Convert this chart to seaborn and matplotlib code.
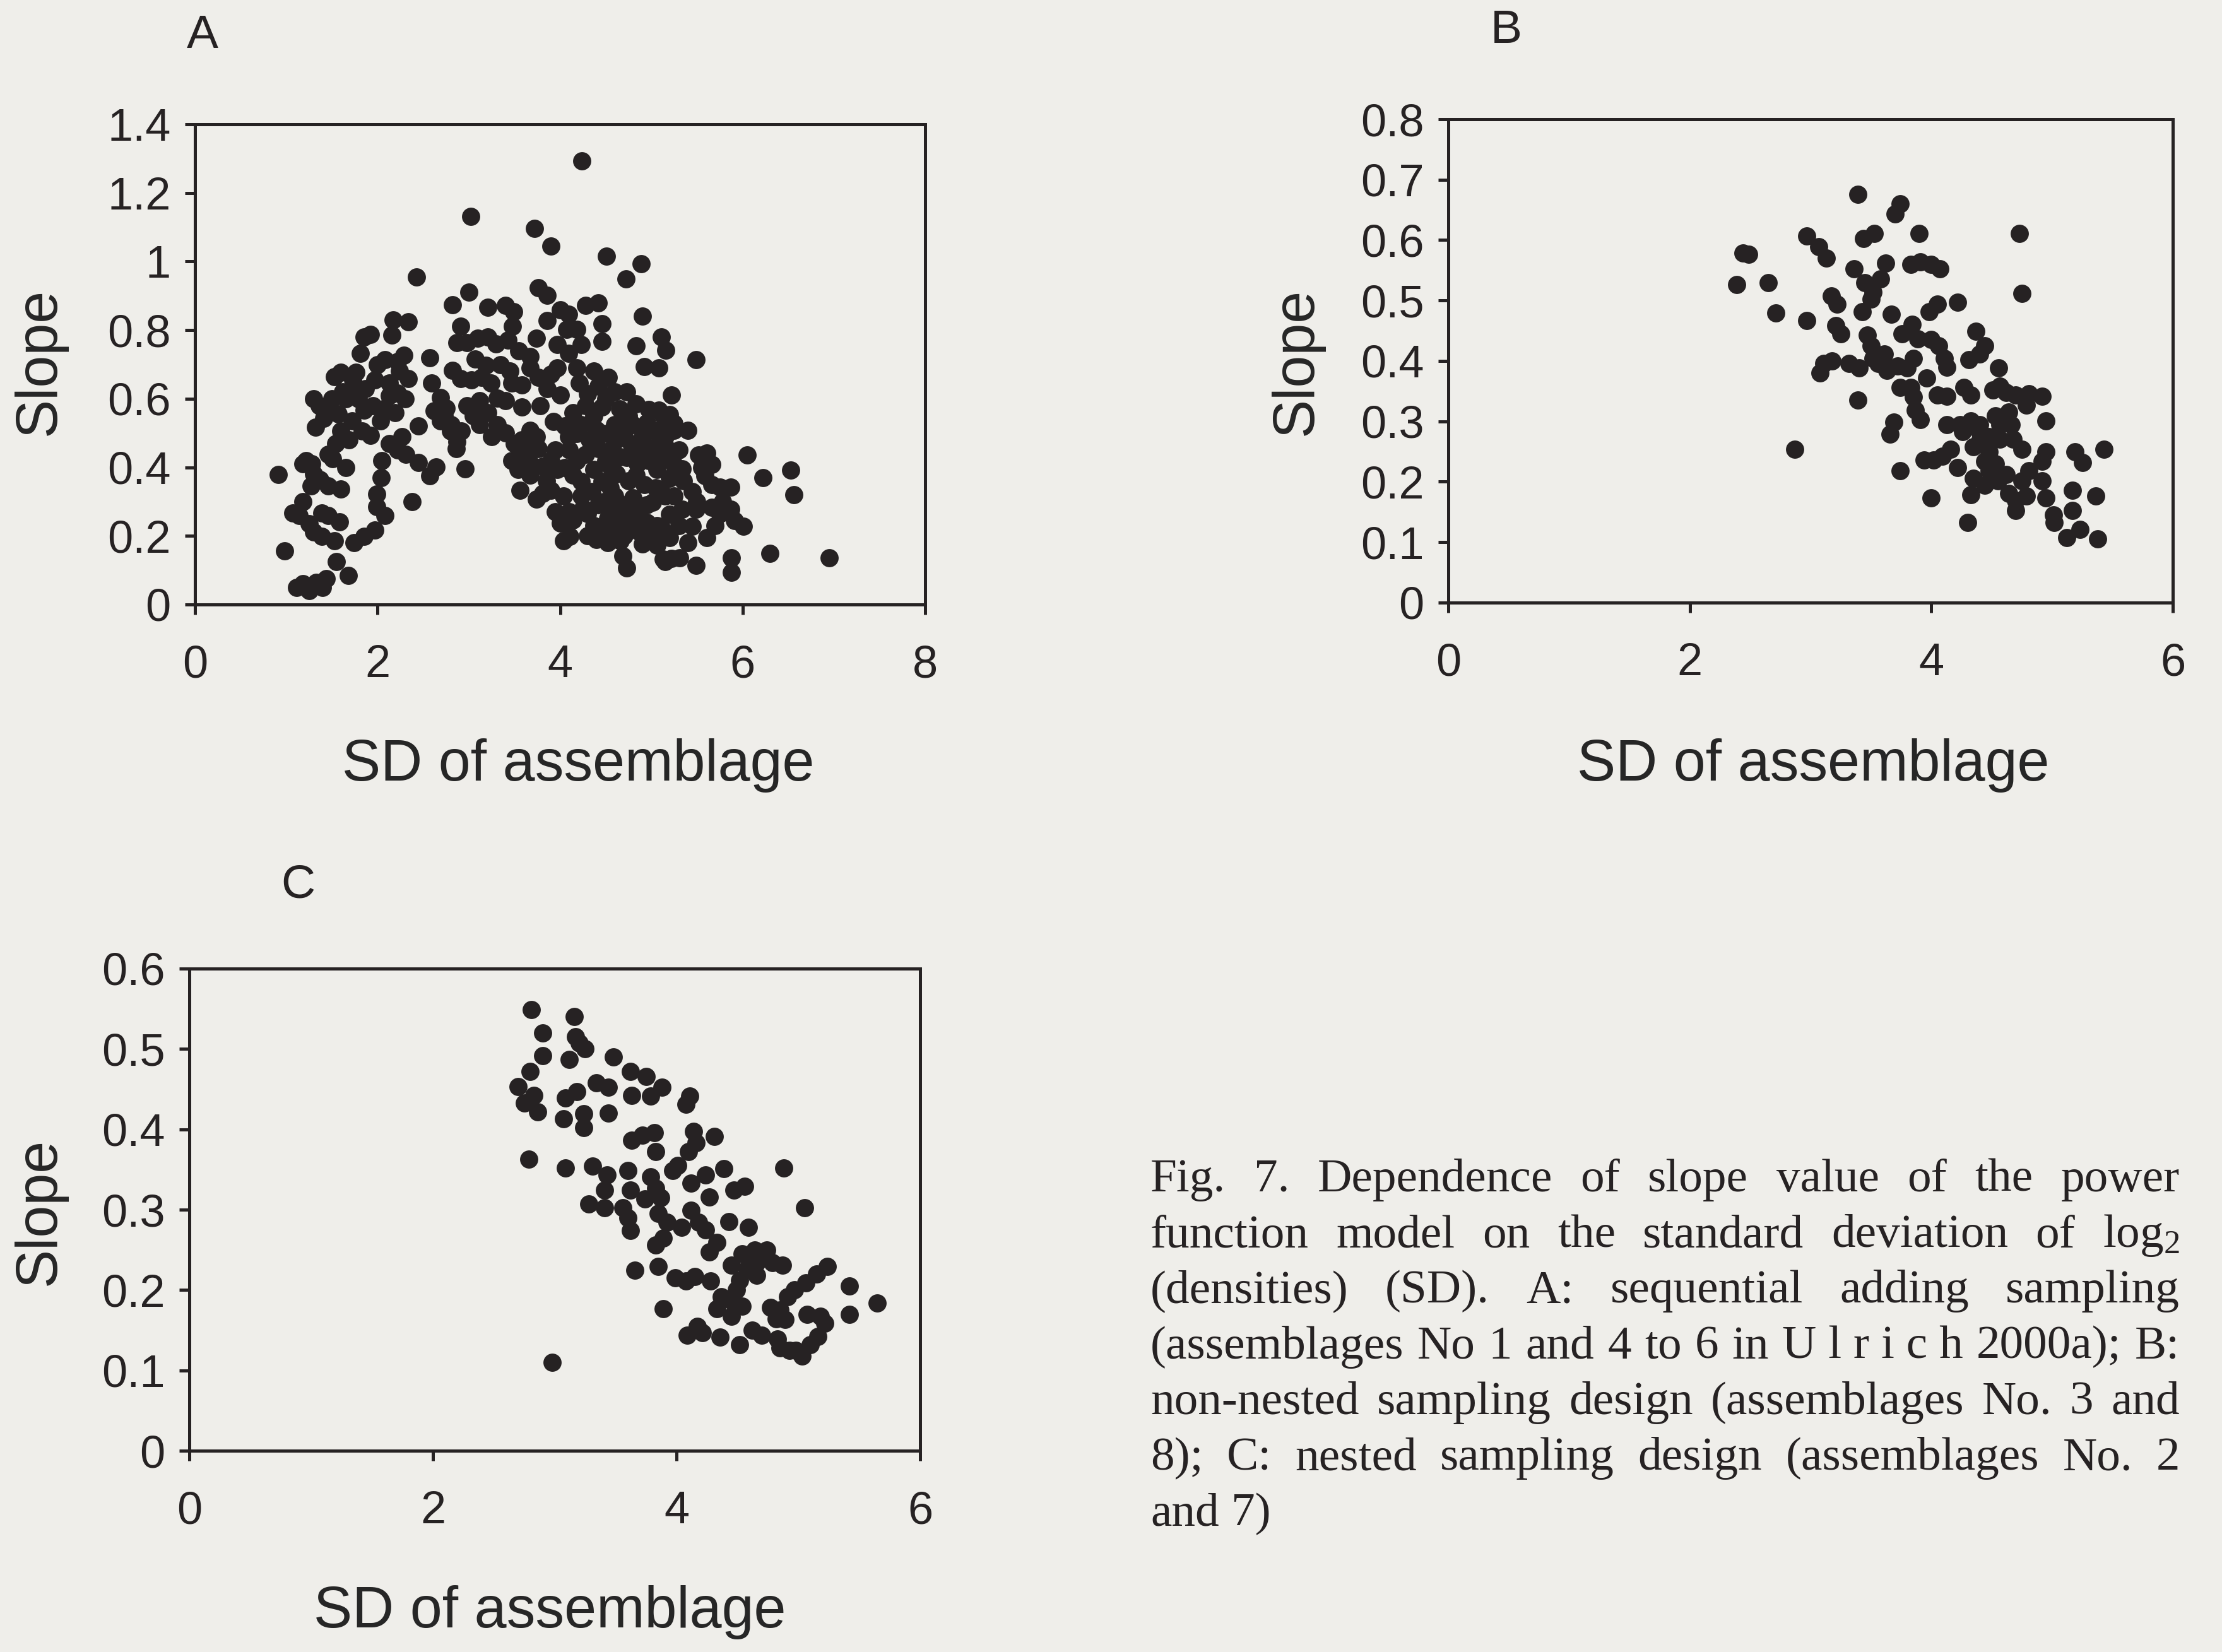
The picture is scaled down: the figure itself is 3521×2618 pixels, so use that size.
import matplotlib
matplotlib.use("Agg")
import matplotlib.pyplot as plt
import pandas as pd
import seaborn as sns

# ---------------------------------------------------------------- data
# Panel A: sequential adding sampling  (SD of assemblage, slope)
points_a = [
    (0.91, 0.379), (0.98, 0.156), (1.11, 0.05), (1.18, 0.06), (1.25, 0.04), (1.33, 0.065), (1.40, 0.05), (1.44, 0.075),
    (1.55, 0.125), (1.68, 0.085), (1.07, 0.267), (1.18, 0.30), (1.27, 0.345), (1.18, 0.41), (1.30, 0.38), (1.37, 0.365),
    (1.46, 0.345), (1.60, 0.337), (1.46, 0.438), (1.51, 0.425), (1.25, 0.235), (1.30, 0.212), (1.39, 0.199), (1.53, 0.186),
    (1.46, 0.259), (1.58, 0.241), (1.74, 0.18), (1.85, 0.199), (1.97, 0.217), (2.08, 0.259), (1.99, 0.285), (1.99, 0.322),
    (2.04, 0.37), (2.38, 0.30), (2.96, 0.396), (1.14, 0.26), (1.39, 0.267), (1.22, 0.42), (1.28, 0.41),
    (1.30, 0.60), (1.32, 0.517), (1.41, 0.543), (1.53, 0.664), (1.60, 0.677), (1.65, 0.60), (1.76, 0.677), (1.81, 0.732),
    (1.85, 0.78), (1.92, 0.787), (1.79, 0.60), (1.85, 0.567), (1.72, 0.536), (1.60, 0.505), (1.69, 0.48), (1.83, 0.505),
    (1.92, 0.493), (2.03, 0.535), (2.08, 0.572), (2.13, 0.609), (2.13, 0.646), (2.22, 0.616), (2.34, 0.658), (2.08, 0.714),
    (2.22, 0.708), (2.29, 0.727), (2.17, 0.83), (2.34, 0.824), (2.13, 0.469), (2.22, 0.45), (2.31, 0.438), (2.45, 0.414),
    (2.64, 0.401), (2.57, 0.72), (2.59, 0.646), (2.69, 0.603), (2.75, 0.572), (2.69, 0.536), (2.80, 0.505), (2.87, 0.475),
    (2.82, 0.683), (2.91, 0.658), (2.98, 0.579), (2.82, 0.873), (3.00, 0.91), (2.91, 0.811), (2.87, 0.763), (2.98, 0.763),
    (1.36, 0.58), (1.46, 0.565), (1.57, 0.555), (1.62, 0.62), (1.73, 0.655), (1.87, 0.63), (1.97, 0.655), (2.16, 0.785),
    (2.24, 0.68), (2.30, 0.60), (2.19, 0.56), (2.27, 0.49), (2.57, 0.375), (2.62, 0.565), (2.73, 0.55), (2.81, 0.525),
    (2.92, 0.505), (2.86, 0.455), (2.05, 0.42), (1.54, 0.47), (2.43, 0.955),
    (1.50, 0.60), (1.70, 0.62), (1.95, 0.58), (2.00, 0.70), (2.45, 0.52), (1.65, 0.40),
    (3.02, 1.131), (3.72, 1.096), (3.90, 1.045), (4.24, 1.293), (4.51, 1.015), (4.89, 0.993), (4.72, 0.949), (3.76, 0.923),
    (3.86, 0.901), (3.21, 0.866), (3.40, 0.872), (3.49, 0.854), (3.48, 0.811), (3.43, 0.771), (3.10, 0.776), (3.21, 0.78),
    (3.74, 0.776), (3.86, 0.828), (4.00, 0.859), (4.09, 0.846), (4.07, 0.802), (4.28, 0.872), (4.42, 0.879), (4.46, 0.818),
    (4.46, 0.767), (4.18, 0.802), (4.23, 0.758), (3.97, 0.758), (4.90, 0.841), (4.83, 0.754), (5.11, 0.78), (5.16, 0.741),
    (4.92, 0.694), (5.08, 0.69), (5.22, 0.611), (3.07, 0.716), (3.19, 0.697), (3.14, 0.662), (3.03, 0.655), (3.24, 0.646),
    (3.31, 0.602), (3.12, 0.594), (3.45, 0.681), (3.47, 0.646), (3.40, 0.594), (3.21, 0.559), (3.05, 0.55), (3.12, 0.524),
    (3.31, 0.524), (3.58, 0.576), (3.67, 0.69), (3.67, 0.723), (3.76, 0.662), (3.90, 0.671), (3.86, 0.629), (4.00, 0.611),
    (3.97, 0.69), (4.09, 0.732), (4.18, 0.69), (4.21, 0.646), (4.37, 0.681), (4.42, 0.637), (4.53, 0.662), (4.60, 0.62),
    (4.73, 0.62), (4.83, 0.585), (4.97, 0.568), (5.13, 0.55), (3.93, 0.533), (3.67, 0.508), (3.58, 0.48), (3.74, 0.489),
    (3.56, 0.438), (3.47, 0.42), (3.67, 0.412), (3.76, 0.454), (3.81, 0.403), (3.90, 0.42), (3.97, 0.394), (4.14, 0.559),
    (4.18, 0.499), (4.09, 0.489), (4.23, 0.524), (4.37, 0.55), (4.46, 0.576), (4.32, 0.48), (4.42, 0.454), (4.28, 0.438),
    (4.48, 0.499), (4.60, 0.524), (4.71, 0.508), (4.80, 0.524), (4.90, 0.489), (5.01, 0.508), (5.15, 0.489), (4.57, 0.454),
    (4.73, 0.429), (4.55, 0.403), (4.83, 0.377), (4.97, 0.42), (5.06, 0.394), (5.18, 0.429), (5.20, 0.368), (4.18, 0.42),
    (4.14, 0.377), (4.23, 0.359), (4.37, 0.394), (4.46, 0.359), (4.60, 0.316), (4.69, 0.29), (4.42, 0.29), (4.55, 0.272),
    (4.73, 0.246), (4.87, 0.272), (5.01, 0.298), (5.15, 0.316), (5.20, 0.263), (5.06, 0.23), (4.87, 0.212), (4.64, 0.212),
    (4.48, 0.221), (4.37, 0.23), (4.23, 0.316), (4.25, 0.281), (4.04, 0.316), (3.90, 0.333), (3.74, 0.307), (3.56, 0.333),
    (3.81, 0.324), (3.67, 0.377), (3.54, 0.394), (4.00, 0.237), (4.14, 0.246), (4.04, 0.186), (4.11, 0.199), (4.69, 0.142),
    (4.73, 0.107), (5.15, 0.125), (5.22, 0.134), (4.90, 0.177), (5.01, 0.186), (4.58, 0.245), (4.80, 0.23), (4.66, 0.185),
    (4.52, 0.18),
    (4.30, 0.615), (4.50, 0.60), (4.65, 0.57), (4.75, 0.55), (4.95, 0.53), (4.62, 0.48), (4.78, 0.47), (4.88, 0.45),
    (5.05, 0.46), (4.66, 0.43), (4.85, 0.41), (4.50, 0.42), (4.62, 0.38), (4.75, 0.36), (4.92, 0.35), (5.05, 0.34),
    (4.55, 0.34), (4.80, 0.31), (4.95, 0.29), (4.48, 0.30), (4.35, 0.33), (4.30, 0.265), (4.62, 0.26), (4.80, 0.26),
    (4.95, 0.24), (4.52, 0.25), (4.70, 0.20), (4.58, 0.19), (4.98, 0.20), (5.12, 0.22), (4.40, 0.19), (4.30, 0.20),
    (4.10, 0.27), (3.95, 0.27), (3.85, 0.36), (3.95, 0.45), (4.05, 0.40), (4.10, 0.45), (3.62, 0.45), (3.50, 0.47),
    (3.40, 0.50), (3.25, 0.49), (3.35, 0.70), (3.55, 0.74), (3.30, 0.76), (3.58, 0.64), (3.78, 0.58), (4.05, 0.52),
    (4.28, 0.58), (4.40, 0.51), (5.30, 0.45), (5.35, 0.36), (5.50, 0.30), (5.55, 0.40), (5.78, 0.30), (5.70, 0.23),
    (5.30, 0.23), (5.40, 0.18),
    (5.08, 0.567), (5.20, 0.554), (5.25, 0.528), (5.08, 0.508), (5.25, 0.508), (5.40, 0.508), (5.49, 0.714), (5.15, 0.462),
    (5.11, 0.421), (5.25, 0.408), (5.34, 0.396), (5.52, 0.436), (5.61, 0.442), (5.66, 0.408), (5.59, 0.375), (5.11, 0.33),
    (5.25, 0.317), (5.45, 0.33), (5.66, 0.35), (5.75, 0.343), (5.87, 0.343), (6.05, 0.436), (6.22, 0.37), (6.53, 0.392),
    (6.56, 0.32), (5.34, 0.278), (5.49, 0.278), (5.66, 0.283), (5.75, 0.265), (5.87, 0.278), (5.91, 0.245), (6.01, 0.229),
    (5.45, 0.229), (5.61, 0.195), (5.08, 0.192), (5.20, 0.195), (5.06, 0.173), (5.13, 0.132), (5.31, 0.136), (5.49, 0.114),
    (5.88, 0.136), (5.88, 0.094), (6.30, 0.149), (6.95, 0.136),
]

# Panel B: non-nested sampling design
points_b = [
    (3.39, 0.676), (3.74, 0.660), (3.70, 0.643), (3.90, 0.611), (4.73, 0.611), (2.97, 0.607), (3.07, 0.589), (3.13, 0.570),
    (3.53, 0.611), (3.44, 0.603), (2.44, 0.579), (2.49, 0.577), (2.39, 0.526), (2.65, 0.530), (2.71, 0.479), (2.97, 0.467),
    (3.36, 0.552), (3.62, 0.562), (3.58, 0.536), (3.45, 0.530), (3.52, 0.514), (3.83, 0.560), (3.91, 0.564), (4.00, 0.560),
    (4.07, 0.552), (3.17, 0.508), (3.22, 0.494), (3.43, 0.481), (3.67, 0.477), (3.98, 0.481), (4.05, 0.494), (4.22, 0.497),
    (4.75, 0.512), (3.21, 0.459), (3.25, 0.445), (3.47, 0.443), (3.50, 0.425), (3.76, 0.445), (3.84, 0.461), (3.89, 0.437),
    (4.00, 0.435), (4.06, 0.425), (4.11, 0.404), (4.37, 0.449), (4.44, 0.425), (4.40, 0.412), (4.31, 0.402), (4.13, 0.390),
    (4.56, 0.388), (3.11, 0.396), (3.08, 0.380), (3.18, 0.400), (3.32, 0.396), (3.40, 0.388), (3.52, 0.404), (3.61, 0.412),
    (3.63, 0.384), (3.72, 0.392), (3.85, 0.404), (3.80, 0.388), (3.96, 0.372), (3.39, 0.335), (3.74, 0.356), (3.83, 0.356),
    (3.85, 0.340), (3.87, 0.319), (3.91, 0.303), (4.05, 0.344), (4.13, 0.341), (4.27, 0.356), (4.33, 0.344), (4.51, 0.352),
    (4.57, 0.358), (4.62, 0.348), (4.70, 0.344), (4.81, 0.346), (4.92, 0.341), (3.69, 0.299), (3.66, 0.279), (4.13, 0.295),
    (4.24, 0.295), (4.33, 0.301), (4.40, 0.295), (4.26, 0.283), (4.53, 0.309), (4.64, 0.315), (4.57, 0.295), (4.95, 0.301),
    (2.87, 0.254), (4.40, 0.267), (4.48, 0.275), (4.57, 0.271), (4.68, 0.271), (4.35, 0.258), (4.75, 0.254), (4.16, 0.254),
    (3.94, 0.236), (4.02, 0.236), (4.09, 0.242), (4.48, 0.250), (4.44, 0.234), (4.53, 0.230), (4.22, 0.224), (3.74, 0.218),
    (4.95, 0.250), (4.92, 0.234), (5.19, 0.250), (5.25, 0.232), (5.43, 0.254), (4.35, 0.206), (4.48, 0.218), (4.62, 0.212),
    (4.75, 0.202), (4.44, 0.194), (4.55, 0.202), (4.92, 0.202), (4.33, 0.179), (4.64, 0.181), (4.70, 0.169), (4.79, 0.177),
    (4.70, 0.153), (4.95, 0.173), (4.00, 0.173), (5.17, 0.186), (5.36, 0.177), (5.17, 0.153), (5.01, 0.145), (5.02, 0.133),
    (4.30, 0.133), (5.23, 0.121), (5.12, 0.108), (5.38, 0.106), (4.81, 0.218), (3.50, 0.502), (3.56, 0.396), (3.65, 0.388),
    (4.79, 0.327), (4.66, 0.295), (4.40, 0.283),
]

# Panel C: nested sampling design
points_c = [
    (2.81, 0.549), (3.16, 0.540), (2.90, 0.520), (3.17, 0.515), (3.20, 0.507), (3.25, 0.500), (2.90, 0.492), (3.12, 0.487),
    (3.48, 0.490), (2.80, 0.472), (3.62, 0.472), (3.75, 0.466), (2.70, 0.453), (2.83, 0.442), (2.75, 0.433), (2.86, 0.422),
    (3.09, 0.439), (3.18, 0.447), (3.34, 0.458), (3.44, 0.452), (3.63, 0.442), (3.79, 0.441), (3.88, 0.452), (4.11, 0.441),
    (4.08, 0.431), (3.07, 0.413), (3.24, 0.419), (3.24, 0.402), (3.44, 0.420), (2.79, 0.363), (3.09, 0.352), (3.63, 0.386),
    (3.72, 0.393), (3.82, 0.396), (3.83, 0.372), (4.14, 0.397), (4.16, 0.383), (4.10, 0.372), (4.31, 0.391), (4.88, 0.352),
    (3.31, 0.354), (3.43, 0.343), (3.41, 0.324), (3.60, 0.349), (3.62, 0.324), (3.79, 0.341), (3.83, 0.327), (3.87, 0.315),
    (3.74, 0.313), (3.97, 0.349), (4.01, 0.355), (4.12, 0.333), (4.24, 0.343), (4.39, 0.351), (4.27, 0.316), (4.47, 0.324),
    (4.56, 0.329), (3.28, 0.307), (3.41, 0.302), (3.56, 0.302), (3.60, 0.290), (3.62, 0.274), (3.85, 0.295), (3.92, 0.284),
    (4.04, 0.278), (4.12, 0.299), (4.18, 0.284), (4.24, 0.275), (4.33, 0.259), (4.43, 0.285), (4.59, 0.278), (5.05, 0.302),
    (3.83, 0.256), (3.89, 0.265), (4.27, 0.247), (3.66, 0.225), (3.85, 0.229), (3.99, 0.215), (4.08, 0.211), (4.15, 0.217),
    (4.28, 0.211), (4.54, 0.245), (4.64, 0.250), (4.72, 0.243), (4.79, 0.234), (4.66, 0.234), (4.87, 0.231), (4.58, 0.226),
    (4.66, 0.218), (4.52, 0.212), (4.49, 0.200), (5.24, 0.229), (5.15, 0.220), (5.06, 0.209), (4.97, 0.200), (4.91, 0.192),
    (5.42, 0.205), (4.37, 0.192), (4.45, 0.187), (4.54, 0.180), (4.33, 0.177), (4.45, 0.167), (3.89, 0.177), (4.77, 0.178),
    (4.85, 0.175), (4.82, 0.164), (4.89, 0.163), (5.07, 0.170), (5.18, 0.167), (5.22, 0.159), (5.42, 0.170), (5.65, 0.184),
    (4.17, 0.155), (4.09, 0.144), (4.21, 0.147), (4.36, 0.141), (4.52, 0.132), (4.62, 0.150), (4.70, 0.144), (4.83, 0.139),
    (4.85, 0.128), (4.93, 0.125), (5.03, 0.118), (5.10, 0.132), (5.16, 0.142), (4.98, 0.125), (2.98, 0.110), (4.45, 0.231),
    (4.74, 0.250),
]

x_ticks_a = [0, 2, 4, 6, 8]
x_ticks_bc = [0, 2, 4, 6]
y_ticks_a = [0, 0.2, 0.4, 0.6, 0.8, 1.0, 1.2, 1.4]
y_labels_a = ["0", "0.2", "0.4", "0.6", "0.8", "1", "1.2", "1.4"]
y_ticks_b = [0, 0.1, 0.2, 0.3, 0.4, 0.5, 0.6, 0.7, 0.8]
y_labels_b = ["0", "0.1", "0.2", "0.3", "0.4", "0.5", "0.6", "0.7", "0.8"]
y_ticks_c = [0, 0.1, 0.2, 0.3, 0.4, 0.5, 0.6]
y_labels_c = ["0", "0.1", "0.2", "0.3", "0.4", "0.5", "0.6"]

x_title = "SD of assemblage"
y_title = "Slope"

caption_lines = [
    ["Fig.", "7.", "Dependence", "of", "slope", "value", "of", "the", "power"],
    ["function", "model", "on", "the", "standard", "deviation", "of", r"log$_\mathrm{2}$"],
    ["(densities)", "(SD).", "A:", "sequential", "adding", "sampling"],
    ["(assemblages", "No", "1", "and", "4", "to", "6", "in", "U l r i c h", "2000a);", "B:"],
    ["non-nested", "sampling", "design", "(assemblages", "No.", "3", "and"],
    ["8);", "C:", "nested", "sampling", "design", "(assemblages", "No.", "2"],
    ["and", "7)"],
]

# ---------------------------------------------------------------- style
sns.set_style("ticks")
BG = "#efeeea"
INK = "#262223"
plt.rcParams.update({
    "font.family": ["Liberation Sans", "DejaVu Sans"],
    "mathtext.fontset": "custom",
    "mathtext.rm": "Liberation Serif",
    "mathtext.it": "Liberation Serif:italic",
    "axes.edgecolor": INK,
    "text.color": INK,
    "xtick.color": INK,
    "ytick.color": INK,
})

W, H, DPI = 3521, 2618, 200
fig = plt.figure(figsize=(W / DPI, H / DPI), dpi=DPI, facecolor=BG)


def rect_from_px(left, top, right, bottom):
    return [left / W, 1 - bottom / H, (right - left) / W, (bottom - top) / H]


def draw_panel(rect, pts, xlim, xticks, ylim, yticks, ylabels, letter, letter_xy, ylab_xy, xlab_xy):
    ax = fig.add_axes(rect)
    ax.set_facecolor(BG)
    df = pd.DataFrame(pts, columns=["SD", "Slope"])
    sns.scatterplot(data=df, x="SD", y="Slope", ax=ax, color=INK, s=108,
                    linewidth=0, alpha=1, legend=False, clip_on=False)
    ax.set_xlim(*xlim)
    ax.set_ylim(*ylim)
    ax.set_xticks(xticks)
    ax.set_xticklabels([str(v) for v in xticks])
    ax.set_yticks(yticks)
    ax.set_yticklabels(ylabels)
    ax.tick_params(axis="both", direction="out", length=5.8, width=1.8, labelsize=26)
    ax.tick_params(axis="x", pad=17)
    ax.tick_params(axis="y", pad=8)
    for sp in ax.spines.values():
        sp.set_visible(True)
        sp.set_linewidth(1.8)
        sp.set_color(INK)
    ax.set_xlabel(x_title, fontsize=33, va="center")
    ax.set_ylabel(y_title, fontsize=33, va="center")
    ax.xaxis.set_label_coords(*xlab_xy)
    ax.yaxis.set_label_coords(*ylab_xy)
    ax.text(letter_xy[0], letter_xy[1], letter, transform=ax.transAxes,
            fontsize=27, ha="center", va="center")
    return ax


draw_panel(rect_from_px(309, 197, 1466, 958), points_a, (0, 8), x_ticks_a, (0, 1.4),
           y_ticks_a, y_labels_a, "A", (0.010, 1.185), (-0.213, 0.506), (0.525, -0.335))
draw_panel(rect_from_px(2295, 189, 3443, 955), points_b, (0, 6), x_ticks_bc, (0, 0.8),
           y_ticks_b, y_labels_b, "B", (0.080, 1.183), (-0.209, 0.499), (0.504, -0.337))
draw_panel(rect_from_px(300, 1535, 1458, 2299), points_c, (0, 6), x_ticks_bc, (0, 0.6),
           y_ticks_c, y_labels_c, "C", (0.149, 1.173), (-0.205, 0.496), (0.493, -0.335))

# ---------------------------------------------------------------- caption (justified block)
cap_left, cap_right = 1823, 3454
first_base, line_step = 1888, 88.2
SERIF = ["Liberation Serif", "DejaVu Serif"]
fig.canvas.draw()
renderer = fig.canvas.get_renderer()


def measure(s, size):
    t = fig.text(0, 0, s, fontsize=size, family=SERIF)
    w = t.get_window_extent(renderer).width
    t.remove()
    return w


# pick the size at which the widest line, set with plain spaces, just fits the column
base = 20.0
space_base = measure("a a", base) - measure("aa", base)
natural = [sum(measure(w, base) for w in words) + space_base * (len(words) - 1)
           for words in caption_lines[:-1]]
cap_size = base * 0.985 * (cap_right - cap_left) / max(natural)
space_w = measure("a a", cap_size) - measure("aa", cap_size)

for i, words in enumerate(caption_lines):
    yb = 1 - (first_base + i * line_step) / H
    items = [fig.text(0, yb, w, fontsize=cap_size, family=SERIF, color=INK,
                      ha="left", va="baseline") for w in words]
    widths = [t.get_window_extent(renderer).width for t in items]
    if i < len(caption_lines) - 1 and len(words) > 1:
        gap = (cap_right - cap_left - sum(widths)) / (len(words) - 1)
    else:
        gap = space_w
    x = cap_left
    for t, w in zip(items, widths):
        t.set_x(x / W)
        x += w + gap

fig.savefig("out.png", dpi=DPI, facecolor=BG)
